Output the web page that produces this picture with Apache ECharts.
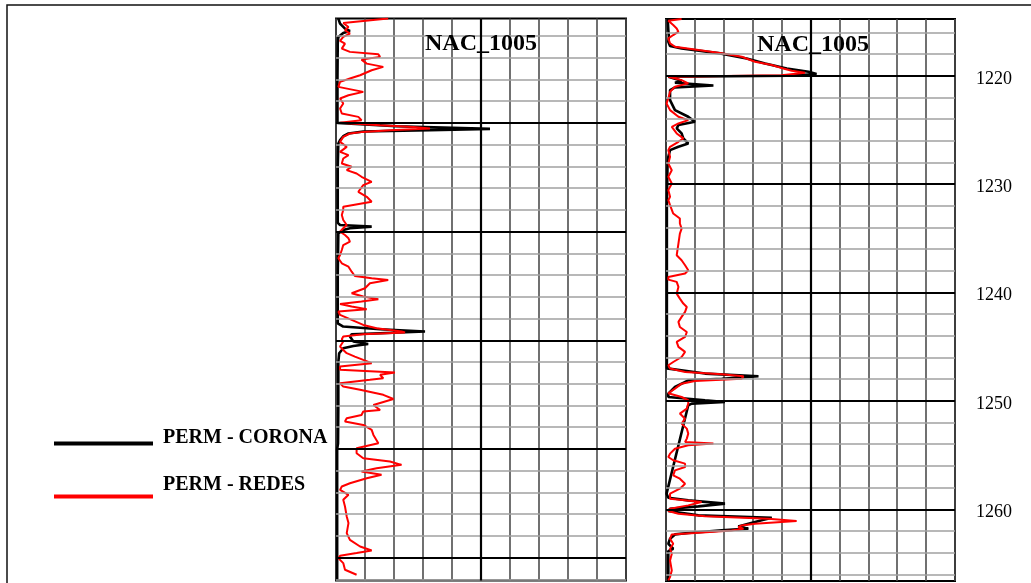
<!DOCTYPE html>
<html>
<head>
<meta charset="utf-8">
<script src="https://cdn.jsdelivr.net/npm/echarts@6/dist/echarts.min.js"></script>
<style>
  html, body { margin: 0; padding: 0; background: #fff; }
  #chart { width: 1031px; height: 583px; }
</style>
</head>
<body>
<div id="chart"></div>
<script>
// Permeability logs for well NAC_1005: [permeability, depth (m)]
const leftCorona = [[8,1160.4],[14,1160.87],[31,1161.33],[48,1161.54],[25,1161.73],[8,1162.1],[6,1162.7],[5,1166],[5,1170.0],[8,1170.12],[209,1170.31],[531,1170.55],[324,1170.67],[94,1170.8],[43,1170.98],[25,1171.23],[14,1171.59],[8,1171.9],[6,1174],[6,1179.2],[14,1179.4],[123,1179.55],[48,1179.7],[25,1179.86],[8,1180.16],[6,1184],[6,1188.44],[25,1188.74],[152,1188.99],[307,1189.2],[152,1189.35],[54,1189.45],[48,1189.66],[60,1190.12],[111,1190.34],[60,1190.52],[25,1190.73],[11,1191.19],[8,1192],[8,1196],[7,1199.5],[4,1200],[4,1212.1]];

const leftRedes = [[180,1160.4],[25,1160.81],[43,1161.18],[31,1161.48],[48,1161.79],[25,1162.1],[14,1162.46],[31,1162.71],[20,1163.17],[48,1163.47],[146,1163.69],[152,1163.93],[88,1164.18],[106,1164.55],[163,1164.85],[123,1165.16],[83,1165.62],[48,1165.92],[14,1166.23],[8,1166.69],[94,1167.15],[43,1167.46],[14,1167.76],[25,1168.22],[14,1168.68],[20,1169.14],[77,1169.45],[88,1169.75],[14,1170.0],[152,1170.21],[267,1170.37],[324,1170.52],[186,1170.67],[94,1170.83],[48,1170.98],[25,1171.29],[14,1171.75],[37,1172.21],[14,1172.67],[43,1172.97],[25,1173.28],[20,1173.74],[54,1174.04],[37,1174.35],[71,1174.66],[88,1174.96],[123,1175.42],[94,1175.73],[77,1176.34],[106,1176.8],[123,1177.26],[25,1177.72],[25,1178.02],[20,1178.48],[25,1178.94],[37,1179.4],[25,1179.7],[14,1180.01],[31,1180.32],[43,1180.62],[48,1180.93],[25,1181.24],[20,1181.7],[14,1182.16],[8,1182.46],[20,1182.92],[43,1183.23],[54,1183.69],[65,1184.09],[123,1184.3],[180,1184.45],[117,1184.76],[100,1185.22],[54,1185.68],[94,1185.98],[146,1186.23],[88,1186.44],[14,1186.66],[54,1186.9],[106,1187.15],[8,1187.36],[14,1187.67],[54,1188.13],[94,1188.59],[140,1188.9],[226,1189.2],[238,1189.29],[94,1189.45],[25,1189.66],[20,1189.91],[25,1190.12],[14,1190.58],[25,1190.89],[37,1191.19],[65,1191.5],[94,1191.81],[123,1192.11],[14,1192.42],[14,1192.72],[203,1192.97],[152,1193.18],[163,1193.49],[117,1193.64],[14,1193.95],[25,1194.26],[83,1194.56],[163,1195.02],[198,1195.4],[129,1195.95],[152,1196.41],[94,1196.56],[88,1196.87],[37,1197.17],[31,1197.48],[94,1197.79],[123,1198.25],[129,1198.71],[146,1199.47],[71,1199.93],[71,1200.39],[94,1200.85],[186,1201.16],[226,1201.46],[140,1201.77],[88,1202.08],[157,1202.38],[106,1202.69],[48,1203.15],[20,1203.45],[14,1203.76],[43,1204.22],[25,1204.68],[31,1205.29],[37,1206.21],[43,1206.82],[37,1207.74],[48,1208.36],[83,1208.97],[123,1209.34],[71,1209.58],[14,1209.83],[8,1210.04],[25,1210.5],[31,1211.11],[71,1211.57]];

const rightCorona = [[6,1214.76],[8,1215.78],[10,1216.4],[8,1216.86],[14,1217.26],[54,1217.48],[187,1217.93],[279,1218.4],[343,1218.86],[418,1219.32],[493,1219.63],[521,1219.84],[423,1220.0],[8,1220.09],[8,1220.25],[54,1220.46],[31,1220.64],[164,1220.89],[31,1221.07],[14,1221.32],[14,1222.24],[31,1223.17],[77,1223.78],[100,1224.25],[43,1224.55],[37,1224.86],[54,1225.32],[60,1225.78],[77,1226.25],[43,1226.55],[14,1226.86],[8,1227.47],[5,1228.5],[3,1232],[3,1247.0],[8,1247.18],[135,1247.48],[320,1247.73],[193,1247.95],[77,1248.1],[31,1248.72],[8,1249.33],[8,1249.64],[135,1249.94],[204,1250.1],[89,1250.25],[77,1250.4],[2,1258.56],[8,1258.93],[77,1259.18],[204,1259.48],[112,1259.73],[14,1259.95],[8,1260.16],[112,1260.56],[366,1260.78],[331,1261.02],[285,1261.33],[250,1261.58],[285,1261.79],[193,1261.95],[77,1262.19],[31,1262.32],[14,1262.72],[8,1263.18],[25,1263.64],[8,1263.86],[8,1266.62]];

const rightRedes = [[54,1214.76],[8,1214.92],[25,1215.32],[37,1215.63],[43,1215.93],[25,1216.24],[8,1216.55],[14,1217.01],[31,1217.32],[112,1217.63],[193,1217.93],[262,1218.24],[308,1218.7],[366,1219.01],[406,1219.32],[435,1219.54],[481,1219.72],[400,1219.94],[8,1220.09],[54,1220.4],[77,1220.7],[31,1221.01],[14,1221.47],[8,1222.09],[2,1222.55],[14,1223.17],[43,1223.78],[77,1224.09],[43,1224.4],[20,1224.71],[37,1225.32],[60,1225.78],[43,1226.09],[14,1226.55],[8,1226.86],[14,1227.47],[8,1228.09],[20,1228.71],[8,1229.32],[20,1229.94],[8,1230.55],[14,1231.17],[8,1231.48],[14,1231.94],[25,1232.71],[48,1233.17],[48,1233.63],[54,1234.1],[48,1234.56],[43,1235.48],[37,1236.56],[54,1237.02],[66,1237.48],[77,1237.94],[66,1238.25],[8,1238.56],[8,1238.81],[37,1239.02],[43,1239.48],[37,1240.1],[48,1240.56],[60,1241.02],[72,1241.33],[66,1241.79],[54,1242.25],[43,1242.71],[48,1243.18],[72,1243.64],[66,1244.1],[37,1244.56],[43,1245.02],[66,1245.48],[54,1245.95],[25,1246.41],[8,1246.71],[14,1247.02],[66,1247.33],[193,1247.55],[268,1247.73],[262,1247.95],[100,1248.16],[54,1248.41],[31,1248.87],[8,1249.3],[54,1249.64],[77,1249.94],[77,1250.25],[72,1250.71],[48,1251.17],[66,1251.64],[54,1252.1],[72,1252.56],[77,1253.02],[72,1253.48],[66,1253.79],[164,1253.94],[77,1254.1],[31,1254.41],[14,1254.87],[8,1255.18],[25,1255.48],[66,1255.79],[66,1256.1],[31,1256.41],[25,1256.87],[48,1257.18],[66,1257.64],[48,1258.1],[14,1258.56],[14,1259.02],[123,1259.33],[77,1259.64],[14,1259.95],[8,1260.16],[43,1260.41],[135,1260.65],[354,1260.87],[452,1261.09],[308,1261.33],[262,1261.49],[250,1261.64],[268,1261.79],[227,1261.95],[100,1262.19],[20,1262.32],[14,1262.72],[25,1263.18],[14,1263.64],[20,1264.1],[14,1264.72],[20,1265.64],[14,1266.26],[8,1266.56]];

// Track depth windows and the depths of the labelled (10 m) lines
const leftRange = [1160.4, 1212.1];
const rightRange = [1214.76, 1266.62];
const leftMajors = [1170, 1180, 1190, 1200, 1210];
const rightMajors = [1220, 1230, 1240, 1250, 1260];

const WELL = 'NAC_1005';
const NAME_CORONA = 'PERM - CORONA';
const NAME_REDES = 'PERM - REDES';
const SERIF = 'Liberation Serif';

// 2 m gridlines between the 10 m ones
function minorDepths(range, majors) {
  const out = [];
  for (let d = Math.ceil(range[0] / 2) * 2; d <= range[1]; d += 2) {
    if (majors.indexOf(d) < 0) out.push(d);
  }
  return out;
}

function gridLines(range, majors, withLabels) {
  const data = [];
  minorDepths(range, majors).forEach(d => data.push({
    yAxis: d, lineStyle: { color: '#a0a0a0', width: 1.6, type: 'solid' }, label: { show: false }
  }));
  majors.forEach(d => data.push({
    yAxis: d, lineStyle: { color: '#000', width: 2.2, type: 'solid' },
    label: withLabels ? {
      show: true, position: 'end', distance: 21, offset: [0, 3], formatter: String(d),
      color: '#000', fontFamily: SERIF, fontSize: 18
    } : { show: false }
  }));
  data.push({ xAxis: 500, lineStyle: { color: '#000', width: 2.2, type: 'solid' }, label: { show: false } });
  return data;
}

function track(idx, range, majors, withLabels, corona, redes) {
  return [
    {
      type: 'line', xAxisIndex: idx, yAxisIndex: idx, data: [], z: 1, silent: true,
      markLine: { silent: true, symbol: ['none', 'none'], animation: false, data: gridLines(range, majors, withLabels) }
    },
    {
      name: NAME_CORONA, type: 'line', xAxisIndex: idx, yAxisIndex: idx, z: 3,
      data: corona, symbol: 'none', showSymbol: false,
      lineStyle: { color: '#000', width: 2.6 }, itemStyle: { color: '#000' }
    },
    {
      name: NAME_REDES, type: 'line', xAxisIndex: idx, yAxisIndex: idx, z: 4,
      data: redes, symbol: 'none', showSymbol: false,
      lineStyle: { color: '#ff0000', width: 2 }, itemStyle: { color: '#ff0000' }
    }
  ];
}

// Legend entry: long bar swatch, bold caption sitting above the bar's level
function legendEntry(name, top, lift) {
  return {
    data: [name], left: 54, top: top, padding: 0, icon: 'rect',
    itemWidth: 99, itemHeight: 4, selectedMode: false,
    formatter: '{t|{name}}',
    textStyle: {
      rich: {
        t: { fontFamily: SERIF, fontSize: 20, fontWeight: 'bold', color: '#000',
             padding: [0, 0, lift * 2, 5] }
      }
    }
  };
}

const xAxisBase = {
  type: 'value', min: 0, max: 1000, interval: 100,
  axisLine: { show: false }, axisTick: { show: false }, axisLabel: { show: false },
  splitLine: { show: true, lineStyle: { color: '#4d4d4d', width: 1.6 } }
};
const yAxisBase = {
  type: 'value', inverse: true,
  axisLine: { show: false }, axisTick: { show: false }, axisLabel: { show: false },
  splitLine: { show: false }
};

const chart = echarts.init(document.getElementById('chart'), null, { renderer: 'canvas' });
chart.setOption({
  animation: false,
  backgroundColor: '#fff',
  title: [
    { text: WELL, left: 425, top: 32, padding: 0,
      textStyle: { fontFamily: SERIF, fontSize: 24, fontWeight: 'bold', color: '#000' } },
    { text: WELL, left: 757, top: 33, padding: 0,
      textStyle: { fontFamily: SERIF, fontSize: 24, fontWeight: 'bold', color: '#000' } }
  ],
  legend: [
    legendEntry(NAME_CORONA, 427.5, 6),
    legendEntry(NAME_REDES, 474.5, 12)
  ],
  grid: [
    { left: 336, top: 18.5, width: 290, height: 562, show: true, backgroundColor: '#fff', borderColor: '#000', borderWidth: 2 },
    { left: 666, top: 19, width: 289, height: 562, show: true, backgroundColor: '#fff', borderColor: '#000', borderWidth: 2 }
  ],
  xAxis: [
    Object.assign({ gridIndex: 0 }, xAxisBase),
    Object.assign({ gridIndex: 1 }, xAxisBase)
  ],
  yAxis: [
    Object.assign({ gridIndex: 0, min: leftRange[0], max: leftRange[1] }, yAxisBase),
    Object.assign({ gridIndex: 1, min: rightRange[0], max: rightRange[1] }, yAxisBase)
  ],
  graphic: [
    { type: 'rect', silent: true, z: 100,
      shape: { x: 7, y: 5, width: 1040, height: 620 },
      style: { fill: null, stroke: '#111', lineWidth: 1.5 } }
  ],
  series: [].concat(
    track(0, leftRange, leftMajors, false, leftCorona, leftRedes),
    track(1, rightRange, rightMajors, true, rightCorona, rightRedes)
  )
});
</script>
</body>
</html>
